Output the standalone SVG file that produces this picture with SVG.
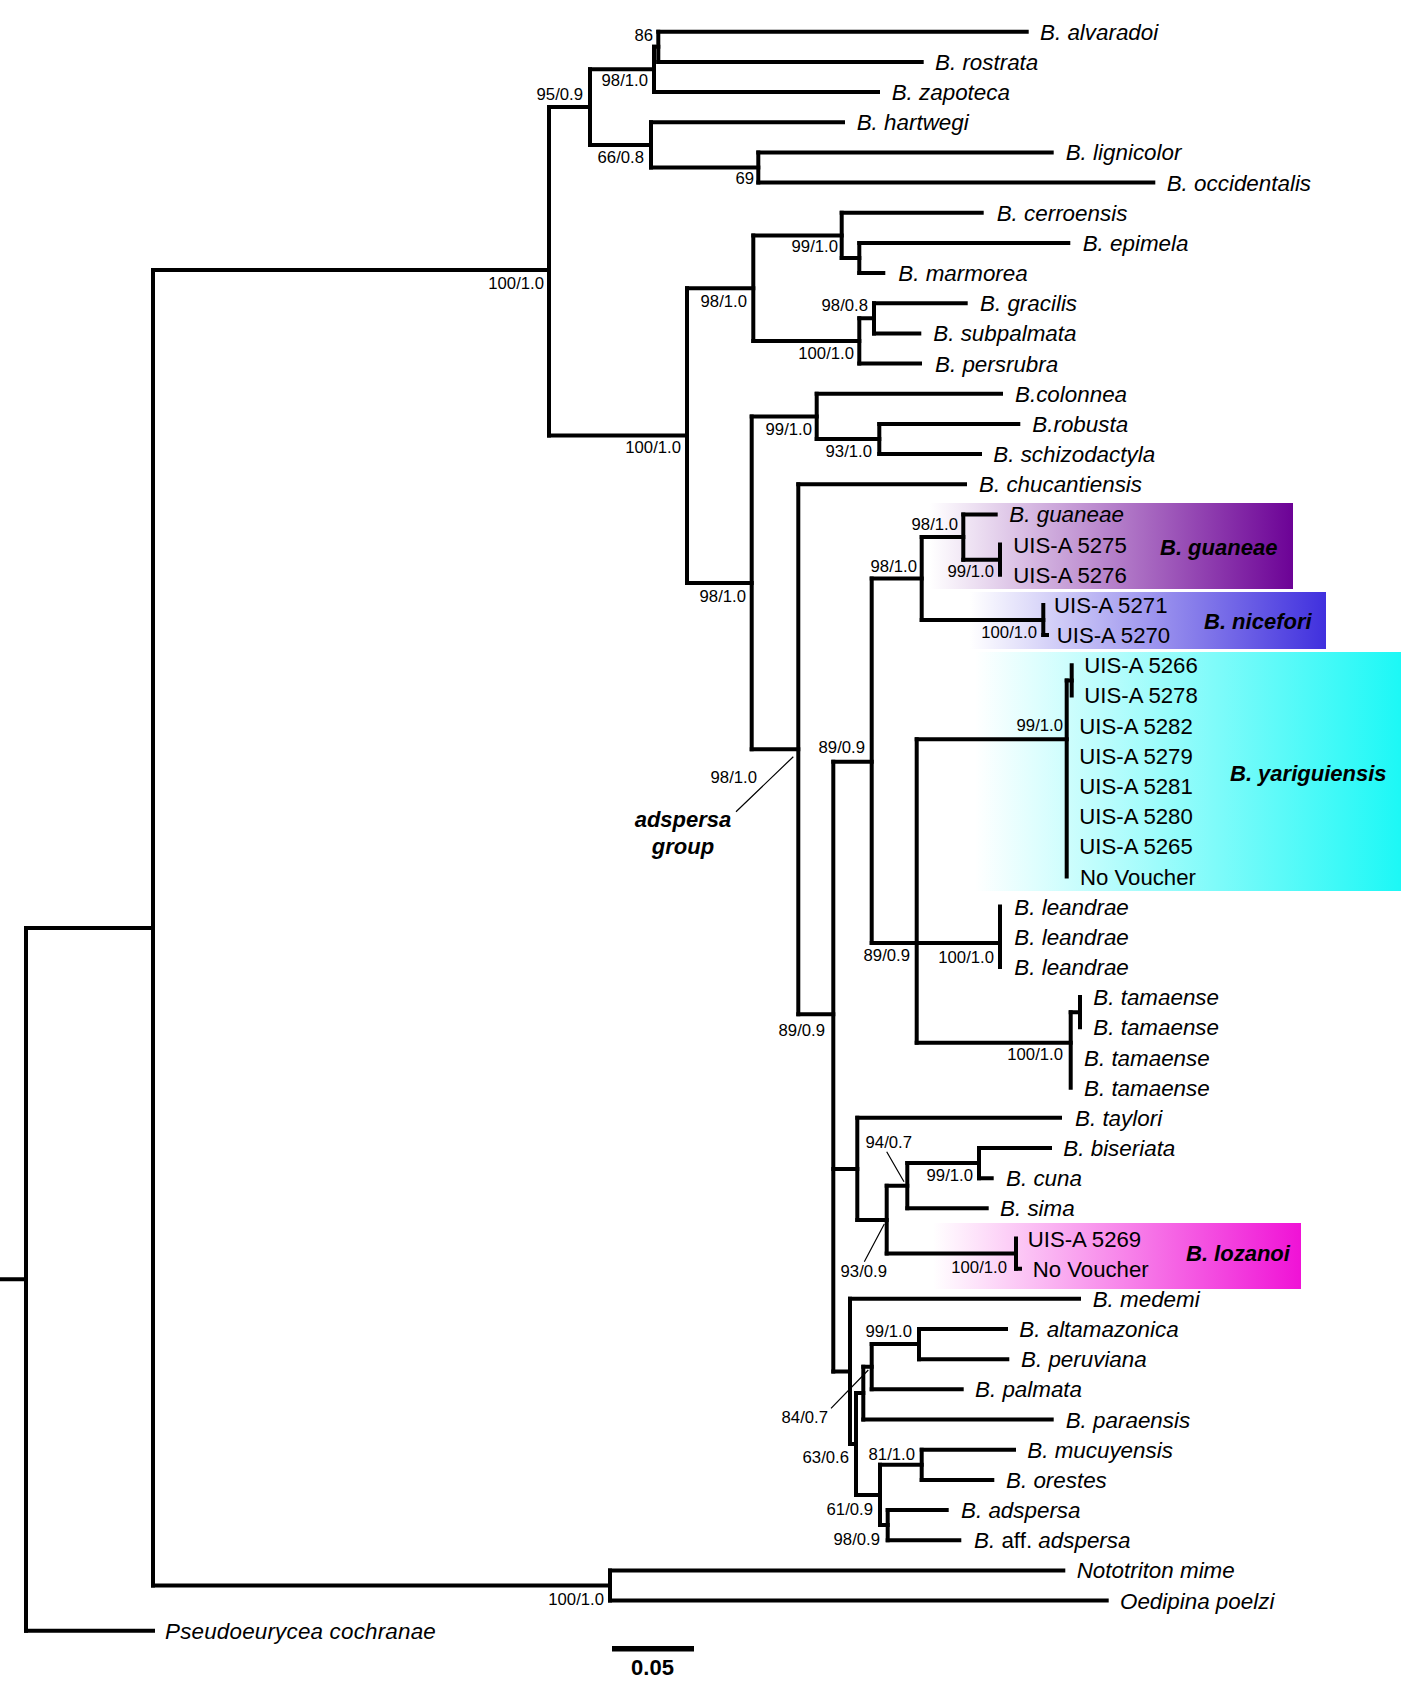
<svg xmlns="http://www.w3.org/2000/svg" width="1417" height="1693" viewBox="0 0 1417 1693">
<defs>
<style>
.br{stroke:#000;stroke-width:4;fill:none;stroke-linecap:square}
.ptr{stroke:#000;stroke-width:1.2;fill:none}
.lf{font-family:"Liberation Sans",Arial,sans-serif;font-size:22.4px;font-style:italic;fill:#000}
.vo{font-family:"Liberation Sans",Arial,sans-serif;font-size:22.2px;fill:#000}
.up{font-style:normal}
.sp{font-family:"Liberation Sans",Arial,sans-serif;font-size:16.7px;fill:#000;text-anchor:end}
.cl{font-family:"Liberation Sans",Arial,sans-serif;font-size:22px;font-style:italic;font-weight:bold;fill:#000}
.grp{font-family:"Liberation Sans",Arial,sans-serif;font-size:22px;font-style:italic;font-weight:bold;fill:#000;text-anchor:middle}
</style>
<linearGradient id="gPur" x1="0" y1="0" x2="1" y2="0"><stop offset="0" stop-color="#fff"/><stop offset="1" stop-color="#6c0296"/></linearGradient>
<linearGradient id="gBlu" x1="0" y1="0" x2="1" y2="0"><stop offset="0" stop-color="#fff"/><stop offset="1" stop-color="#4030de"/></linearGradient>
<linearGradient id="gCya" x1="0" y1="0" x2="1" y2="0"><stop offset="0" stop-color="#fff"/><stop offset="1" stop-color="#1cf8f6"/></linearGradient>
<linearGradient id="gMag" x1="0" y1="0" x2="1" y2="0"><stop offset="0" stop-color="#fff"/><stop offset="1" stop-color="#f012d6"/></linearGradient>
</defs>
<rect width="1417" height="1693" fill="#fff"/>

<g id="clade-boxes">
<rect id="box-guaneae" x="930" y="503" width="363" height="86" fill="url(#gPur)"/>
<rect id="box-nicefori" x="970" y="592" width="356" height="57" fill="url(#gBlu)"/>
<rect id="box-yariguiensis" x="975" y="652" width="426" height="239" fill="url(#gCya)"/>
<rect id="box-lozanoi" x="933" y="1223" width="368" height="66" fill="url(#gMag)"/>
</g>

<g id="connectors">
<path class="br" d="M26 928V1630.7M153 270V1585.5M549 107V435.5M590 69.3V145M654 46.8V92M658.3 31.7V61.9M651 122.2V167.5M758.3 152.4V182.6M687 288.2V582.9M753.3 235.4V341M841.7 212.7V258M859.3 242.9V273.1M859.3 318.3V363.6M874 303.2V333.4M751.7 416.4V749.3M816.7 393.7V439M879.3 423.9V454.1M798.3 484.3V1014.3M833.3 761.7V1371.4M871.7 578.5V943M921.7 537V620M963.3 514.4V559.7M1000 544.6V574.8M1043.3 604.9V635.1M916.7 739.3V1042.7M1066.7 680.4V876.5M1071.7 665.3V695.4M1000 906.6V967M1070.7 1012.2V1087.7M1080 997.1V1027.3M857.3 1117.8V1220M886.7 1185.7V1253.6M907.3 1163.1V1208.3M979 1148V1178.2M1016 1238.5V1268.7M850 1298.8V1444M856 1393V1495M863.3 1366.7V1419.5M871.7 1344.1V1389.3M919 1329V1359.2M880 1464.8V1525.1M921.7 1449.7V1479.9M887.7 1510V1540.2M610 1570.4V1600.5"/>
<path class="br" d="M0 1279.3H26M26 928H153M26 1630.7H153M153 270H549M153 1585.5H610M549 107H590M549 435.5H687M590 69.3H654M590 145H651M654 46.8H658.3M654 92H878M658.3 31.7H1026.7M658.3 61.9H921.7M651 122.2H843M651 167.5H758.3M758.3 152.4H1051.7M758.3 182.6H1153.3M687 288.2H753.3M687 582.9H751.7M753.3 235.4H841.7M753.3 341H859.3M841.7 212.7H981.7M841.7 258H859.3M859.3 242.9H1068.3M859.3 273.1H883.3M859.3 318.3H874M859.3 363.6H920M874 303.2H965.7M874 333.4H919.3M751.7 416.4H816.7M751.7 749.3H798.3M816.7 393.7H1001M816.7 439H879.3M879.3 423.9H1018.3M879.3 454.1H980M798.3 484.3H965M798.3 1014.3H833.3M833.3 761.7H871.7M833.3 1169H857.3M833.3 1371.4H850M871.7 578.5H921.7M871.7 943H1000M921.7 537H963.3M921.7 620H1043.3M963.3 514.4H995.7M963.3 559.7H1000M1043.3 635.1H1047M916.7 739.3H1066.7M1066.7 680.4H1071.7M916.7 1042.7H1070.7M1070.7 1012.2H1080M857.3 1117.8H1060M857.3 1220H886.7M886.7 1185.7H907.3M886.7 1253.6H1016M907.3 1163.1H979M907.3 1208.3H986.7M979 1148H1050M979 1178.2H991.7M1016 1268.7H1020M850 1298.8H1079M850 1444H856M856 1393H863.3M856 1495H880M863.3 1366.7H871.7M863.3 1419.5H1051.7M871.7 1344.1H919M871.7 1389.3H961.7M919 1329H1006M919 1359.2H1007.3M880 1464.8H921.7M880 1525.1H887.7M921.7 1449.7H1014M921.7 1479.9H992.3M887.7 1510H946.7M887.7 1540.2H959.3M610 1570.4H1063.3M610 1600.5H1106.7"/>
<path class="ptr" d="M793.3 756.7L736 811.7M886.7 1151.7L904 1181.7M864.3 1261.7L884.3 1224M831 1408.3L868.3 1370"/>
</g>

<g id="support-values">
<text class="sp" x="653" y="41">86</text>
<text class="sp" x="648" y="86">98/1.0</text>
<text class="sp" x="583" y="100">95/0.9</text>
<text class="sp" x="644" y="163">66/0.8</text>
<text class="sp" x="754" y="184">69</text>
<text class="sp" x="544" y="289">100/1.0</text>
<text class="sp" x="747" y="307">98/1.0</text>
<text class="sp" x="838" y="252">99/1.0</text>
<text class="sp" x="868" y="311">98/0.8</text>
<text class="sp" x="854" y="359">100/1.0</text>
<text class="sp" x="681" y="453">100/1.0</text>
<text class="sp" x="812" y="435">99/1.0</text>
<text class="sp" x="872" y="457">93/1.0</text>
<text class="sp" x="746" y="602">98/1.0</text>
<text class="sp" x="958" y="530">98/1.0</text>
<text class="sp" x="917" y="572">98/1.0</text>
<text class="sp" x="994" y="577">99/1.0</text>
<text class="sp" x="1037" y="638">100/1.0</text>
<text class="sp" x="1063" y="731">99/1.0</text>
<text class="sp" x="865" y="753">89/0.9</text>
<text class="sp" x="757" y="783">98/1.0</text>
<text class="sp" x="910" y="961">89/0.9</text>
<text class="sp" x="994" y="963">100/1.0</text>
<text class="sp" x="825" y="1036">89/0.9</text>
<text class="sp" x="1063" y="1060">100/1.0</text>
<text class="sp" x="912" y="1147.5">94/0.7</text>
<text class="sp" x="973" y="1181">99/1.0</text>
<text class="sp" x="1007" y="1272.5">100/1.0</text>
<text class="sp" x="887" y="1277">93/0.9</text>
<text class="sp" x="912" y="1337">99/1.0</text>
<text class="sp" x="828" y="1423">84/0.7</text>
<text class="sp" x="915" y="1459.5">81/1.0</text>
<text class="sp" x="849" y="1463">63/0.6</text>
<text class="sp" x="873" y="1515">61/0.9</text>
<text class="sp" x="880" y="1545">98/0.9</text>
<text class="sp" x="604" y="1605">100/1.0</text>
</g>

<g id="group-label"><text class="grp" x="683" y="827">adspersa</text><text class="grp" x="683" y="854">group</text></g>

<g id="clade-labels">
<text class="cl" x="1160" y="555">B. guaneae</text>
<text class="cl" x="1204" y="629">B. nicefori</text>
<text class="cl" x="1230" y="781">B. yariguiensis</text>
<text class="cl" x="1186" y="1261">B. lozanoi</text>
</g>

<g id="taxa">
<g id="t-alvaradoi"><text class="lf" x="1040" y="39.7">B. alvaradoi</text></g>
<g id="t-rostrata"><text class="lf" x="935" y="69.9">B. rostrata</text></g>
<g id="t-zapoteca"><text class="lf" x="891.7" y="100">B. zapoteca</text></g>
<g id="t-hartwegi"><text class="lf" x="856.7" y="130.2">B. hartwegi</text></g>
<g id="t-lignicolor"><text class="lf" x="1065.7" y="160.4">B. lignicolor</text></g>
<g id="t-occidentalis"><text class="lf" x="1166.7" y="190.6">B. occidentalis</text></g>
<g id="t-cerroensis"><text class="lf" x="996.7" y="220.7">B. cerroensis</text></g>
<g id="t-epimela"><text class="lf" x="1082.7" y="250.9">B. epimela</text></g>
<g id="t-marmorea"><text class="lf" x="898.3" y="281.1">B. marmorea</text></g>
<g id="t-gracilis"><text class="lf" x="980" y="311.2">B. gracilis</text></g>
<g id="t-subpalmata"><text class="lf" x="933.3" y="341.4">B. subpalmata</text></g>
<g id="t-persrubra"><text class="lf" x="935" y="371.6">B. persrubra</text></g>
<g id="t-colonnea"><text class="lf" x="1015" y="401.7">B.colonnea</text></g>
<g id="t-robusta"><text class="lf" x="1032.3" y="431.9">B.robusta</text></g>
<g id="t-schizodactyla"><text class="lf" x="993.3" y="462.1">B. schizodactyla</text></g>
<g id="t-chucantiensis"><text class="lf" x="979" y="492.3">B. chucantiensis</text></g>
<g id="t-guaneae"><text class="lf" x="1009.3" y="522.4">B. guaneae</text></g>
<g id="t-5275"><text class="vo" x="1013.3" y="552.6">UIS-A 5275</text></g>
<g id="t-5276"><text class="vo" x="1013.3" y="582.8">UIS-A 5276</text></g>
<g id="t-5271"><text class="vo" x="1054" y="612.9">UIS-A 5271</text></g>
<g id="t-5270"><text class="vo" x="1056.7" y="643.1">UIS-A 5270</text></g>
<g id="t-5266"><text class="vo" x="1084.3" y="673.3">UIS-A 5266</text></g>
<g id="t-5278"><text class="vo" x="1084.3" y="703.4">UIS-A 5278</text></g>
<g id="t-5282"><text class="vo" x="1079.3" y="733.6">UIS-A 5282</text></g>
<g id="t-5279"><text class="vo" x="1079.3" y="763.8">UIS-A 5279</text></g>
<g id="t-5281"><text class="vo" x="1079.3" y="794">UIS-A 5281</text></g>
<g id="t-5280"><text class="vo" x="1079.3" y="824.1">UIS-A 5280</text></g>
<g id="t-5265"><text class="vo" x="1079.3" y="854.3">UIS-A 5265</text></g>
<g id="t-novoucher1"><text class="vo" x="1080" y="884.5">No Voucher</text></g>
<g id="t-leandrae1"><text class="lf" x="1014.3" y="914.6">B. leandrae</text></g>
<g id="t-leandrae2"><text class="lf" x="1014.3" y="944.8">B. leandrae</text></g>
<g id="t-leandrae3"><text class="lf" x="1014.3" y="975">B. leandrae</text></g>
<g id="t-tamaense1"><text class="lf" x="1093.3" y="1005.1">B. tamaense</text></g>
<g id="t-tamaense2"><text class="lf" x="1093.3" y="1035.3">B. tamaense</text></g>
<g id="t-tamaense3"><text class="lf" x="1084" y="1065.5">B. tamaense</text></g>
<g id="t-tamaense4"><text class="lf" x="1084" y="1095.7">B. tamaense</text></g>
<g id="t-taylori"><text class="lf" x="1075" y="1125.8">B. taylori</text></g>
<g id="t-biseriata"><text class="lf" x="1063.3" y="1156">B. biseriata</text></g>
<g id="t-cuna"><text class="lf" x="1006" y="1186.2">B. cuna</text></g>
<g id="t-sima"><text class="lf" x="1000" y="1216.3">B. sima</text></g>
<g id="t-5269"><text class="vo" x="1027.7" y="1246.5">UIS-A 5269</text></g>
<g id="t-novoucher2"><text class="vo" x="1032.7" y="1276.7">No Voucher</text></g>
<g id="t-medemi"><text class="lf" x="1092.7" y="1306.8">B. medemi</text></g>
<g id="t-altamazonica"><text class="lf" x="1019.3" y="1337">B. altamazonica</text></g>
<g id="t-peruviana"><text class="lf" x="1021" y="1367.2">B. peruviana</text></g>
<g id="t-palmata"><text class="lf" x="975" y="1397.3">B. palmata</text></g>
<g id="t-paraensis"><text class="lf" x="1065.7" y="1427.5">B. paraensis</text></g>
<g id="t-mucuyensis"><text class="lf" x="1027.3" y="1457.7">B. mucuyensis</text></g>
<g id="t-orestes"><text class="lf" x="1006" y="1487.9">B. orestes</text></g>
<g id="t-adspersa"><text class="lf" x="961" y="1518">B. adspersa</text></g>
<g id="t-affadspersa"><text class="lf" x="974" y="1548.2">B. <tspan class="up">aff.</tspan> adspersa</text></g>
<g id="t-nototriton"><text class="lf" x="1076.7" y="1578.4">Nototriton mime</text></g>
<g id="t-oedipina"><text class="lf" x="1120" y="1608.5">Oedipina poelzi</text></g>
<g id="t-pseudoeurycea"><text class="lf" x="165" y="1638.7" letter-spacing="0.2">Pseudoeurycea cochranae</text></g>
</g>

<g id="scale-bar">
<rect x="612" y="1646" width="82" height="5.5" fill="#000"/>
<text x="652.5" y="1675" font-family="Liberation Sans, Arial, sans-serif" font-size="22" font-weight="bold" text-anchor="middle">0.05</text>
</g>
</svg>
